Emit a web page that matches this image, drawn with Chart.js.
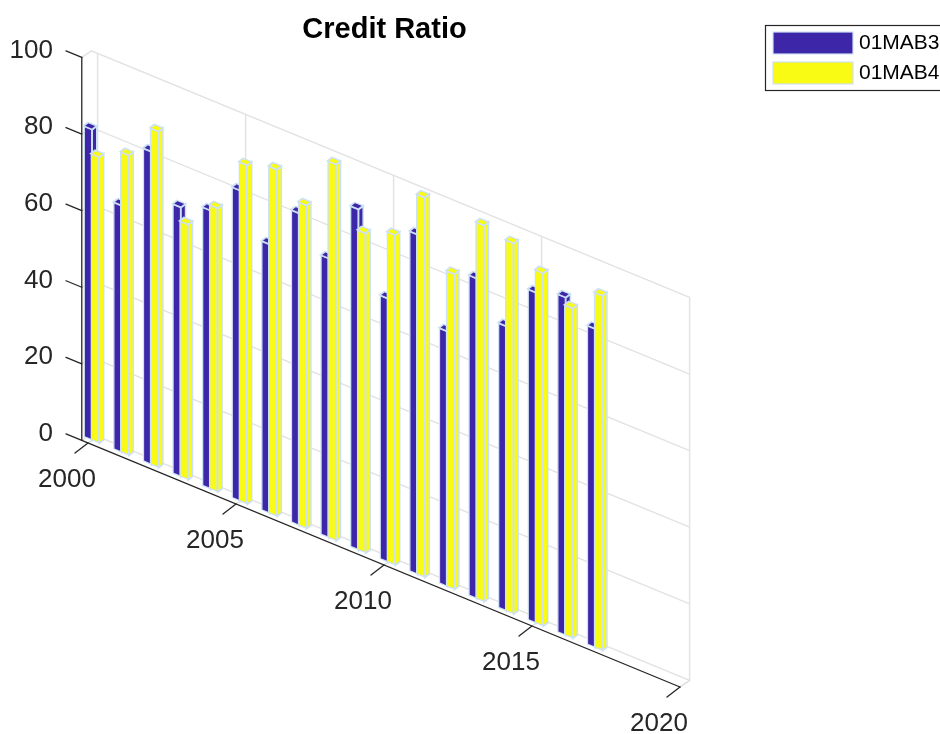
<!DOCTYPE html>
<html>
<head>
<meta charset="utf-8">
<title>Credit Ratio</title>
<script src="https://cdn.jsdelivr.net/npm/chart.js@4"></script>
<style>
  html, body { margin: 0; padding: 0; background: #fff; overflow: hidden; }
  canvas { display: block; }
</style>
</head>
<body>
<canvas id="chart" width="940" height="734"></canvas>
<script>
// values
const years = [2000, 2001, 2002, 2003, 2004, 2005, 2006, 2007, 2008, 2009, 2010, 2011, 2012, 2013, 2014, 2015, 2016, 2017];
const mab3 = [81.2, 64.5, 81.8, 70.4, 72.8, 81.2, 70.3, 81.6, 73.0, 89.0, 68.9, 88.8, 66.7, 83.7, 74.4, 86.4, 88.3, 83.3];
const mab4 = [74.7, 78.4, 87.8, 66.7, 74.1, 88.5, 90.6, 84.4, 98.3, 83.5, 86.2, 99.2, 82.4, 98.3, 96.8, 92.2, 86.2, 92.7];
const xTicks = [2000, 2005, 2010, 2015, 2020];
const yGrid = [20, 40, 60, 80];

const TEXT = '#262626';
const GRID = '#e2e2e2';
const EDGE = '#cde1f5';
const FONT = '"Liberation Sans", Arial, sans-serif';

// fake 3D view: floor falls to the right, bars have a little depth
const SLOPE = 0.4122;
const DEPTH_X = 4.5, DEPTH_Y = -3.5;  // bar depth, pixels
const BOX_X = 9.6, BOX_Y = -6.6;      // front to back of the floor
const X_LEFT = 1999.79;

function line(ctx, pts, color, width) {
    ctx.beginPath();
    pts.forEach((p, i) => i ? ctx.lineTo(p[0], p[1]) : ctx.moveTo(p[0], p[1]));
    ctx.strokeStyle = color;
    ctx.lineWidth = width;
    ctx.stroke();
}

function poly(ctx, pts, fill) {
    ctx.beginPath();
    pts.forEach((p, i) => i ? ctx.lineTo(p[0], p[1]) : ctx.moveTo(p[0], p[1]));
    ctx.closePath();
    ctx.fillStyle = fill;
    ctx.fill();
    ctx.strokeStyle = EDGE;
    ctx.lineWidth = 1.5;
    ctx.stroke();
}

// pixel on the front edge (back = false) or the back wall (back = true)
function boxPoint(chart, yr, v, back) {
    const xs = chart.scales.x, ys = chart.scales.y;
    const x = xs.getPixelForValue(yr);
    const y = ys.getPixelForValue(0) + SLOPE * (x - xs.getPixelForValue(2000)) + 4.35;
    const h = ys.getPixelForValue(v) - ys.getPixelForValue(0);
    return back ? [x + BOX_X, y + BOX_Y + h] : [x, y + h];
}

const view3d = {
    id: 'view3d',
    beforeDatasetsDraw(chart) {
        const ctx = chart.ctx;
        const xs = chart.scales.x;
        const p = (yr, v, back) => boxPoint(chart, yr, v, back);

        // walls and floor
        ctx.save();
        ctx.lineCap = 'round';
        [0, ...yGrid, 100].forEach(v => {
            line(ctx, [p(X_LEFT, v, false), p(X_LEFT, v, true), p(2020, v, true)], GRID, 1.4);
        });
        xTicks.forEach(yr => {
            line(ctx, [p(yr, 100, true), p(yr, 0, true), p(yr, 0, false)], GRID, 1.4);
        });
        line(ctx, [p(2020, 0, true), p(2020, 0, false)], GRID, 1.4);

        // black axes
        line(ctx, [p(X_LEFT, 100, false), p(X_LEFT, 0, false)], TEXT, 1.3);
        const x0 = p(X_LEFT, 0, false);
        const out = xs.left - x0[0];
        line(ctx, [[x0[0] + out, x0[1] + out * SLOPE], p(2020, 0, false)], TEXT, 1.3);
        [...yGrid, 100].forEach(v => {
            const a = p(X_LEFT, v, false);
            line(ctx, [a, [a[0] + out, a[1] + out * SLOPE]], TEXT, 1.3);
        });
        ctx.textAlign = 'center';
        ctx.textBaseline = 'middle';
        ctx.font = '26px ' + FONT;
        xTicks.forEach(yr => {
            const a = p(yr, 0, false);
            line(ctx, [a, [a[0] - 13, a[1] + 10]], TEXT, 1.3);
            ctx.fillStyle = TEXT;
            ctx.fillText(String(yr), a[0] - 21, a[1] + 37);
        });
        ctx.restore();

        // everything in the datasets is sheared along the floor
        ctx.save();
        ctx.transform(1, SLOPE, 0, 1, 0, -SLOPE * xs.getPixelForValue(2000));
    },
    afterDatasetDraw(chart, args) {
        const ctx = chart.ctx;
        const color = chart.data.datasets[args.index].backgroundColor;
        const dy = DEPTH_Y - SLOPE * DEPTH_X;
        chart.getDatasetMeta(args.index).data.forEach(bar => {
            const l = bar.x - bar.width / 2, r = bar.x + bar.width / 2;
            poly(ctx, [[r, bar.y], [r + DEPTH_X, bar.y + dy], [r + DEPTH_X, bar.base + dy], [r, bar.base]], color);
            poly(ctx, [[l, bar.y], [r, bar.y], [r + DEPTH_X, bar.y + dy], [l + DEPTH_X, bar.y + dy]], color);
        });
    },
    afterDatasetsDraw(chart) {
        chart.ctx.restore();
    },
    afterDraw(chart) {
        const ctx = chart.ctx;
        ctx.save();
        ctx.fillStyle = '#000';
        ctx.font = 'bold 29px ' + FONT;
        ctx.textAlign = 'center';
        ctx.textBaseline = 'middle';
        ctx.fillText('Credit Ratio', 384.5, 30);

        // legend runs off the right side, same as the original
        ctx.fillStyle = '#fff';
        ctx.strokeStyle = TEXT;
        ctx.lineWidth = 1.2;
        ctx.fillRect(765.5, 25.5, 200, 65);
        ctx.strokeRect(765.5, 25.5, 200, 65);
        ctx.textAlign = 'left';
        ctx.font = '21px ' + FONT;
        chart.data.datasets.forEach((ds, i) => {
            const top = 32 + i * 30;
            ctx.fillStyle = ds.backgroundColor;
            ctx.fillRect(773, top, 80, 22);
            ctx.strokeStyle = EDGE;
            ctx.lineWidth = 1.2;
            ctx.strokeRect(773, top, 80, 22);
            ctx.fillStyle = '#000';
            ctx.fillText(ds.label, 859, top + 11.5);
        });
        ctx.restore();
    }
};

new Chart(document.getElementById('chart'), {
    type: 'bar',
    plugins: [view3d],
    data: {
        labels: years,
        datasets: [
            { label: '01MAB3', data: mab3, xAxisID: 'x', order: 2, backgroundColor: '#3e26a8' },
            { label: '01MAB4', data: mab4, xAxisID: 'x2', order: 1, backgroundColor: '#f9fb15' }
        ]
    },
    options: {
        responsive: false,
        animation: false,
        devicePixelRatio: 1,
        layout: { padding: { left: 0, right: 260, top: 55.65, bottom: 295.35 } },
        plugins: { legend: { display: false }, title: { display: false }, tooltip: { enabled: false } },
        datasets: {
            bar: { grouped: false, barThickness: 8.5, borderWidth: 1.5, borderColor: EDGE, borderSkipped: false, clip: false }
        },
        scales: {
            // the two series sit side by side, so each gets its own x scale
            x: { type: 'linear', display: false, offset: false, min: 1999.2568, max: 2020 },
            x2: { type: 'linear', display: false, offset: false, min: 1999.0203, max: 2019.7635 },
            y: {
                min: 0,
                max: 100,
                afterFit: s => { s.width = 66; },
                grid: { display: false, drawTicks: false },
                border: { display: false },
                ticks: {
                    stepSize: 20,
                    padding: 13,
                    labelOffset: -5,
                    color: TEXT,
                    font: { family: FONT, size: 26 }
                }
            }
        }
    }
});
</script>
</body>
</html>
